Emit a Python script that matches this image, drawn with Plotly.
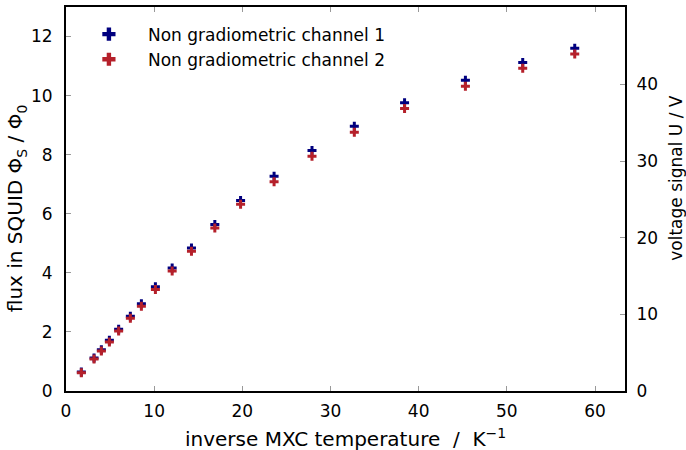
import plotly.graph_objects as go

# inverse MXC temperature (1/K)
inv_T = [1.74, 3.18, 4.01, 4.92, 5.97, 7.30, 8.55, 10.14, 12.04, 14.23, 16.88,
         19.80, 23.6, 27.9, 32.7, 38.4, 45.3, 51.8, 57.7]
# channel 1 flux (Phi_0)
flux_ch1 = [0.64, 1.12, 1.40, 1.72, 2.09, 2.53, 2.95, 3.53, 4.16, 4.84, 5.64,
            6.45, 7.27, 8.14, 8.96, 9.76, 10.52, 11.12, 11.60]
# channel 2 flux (Phi_0)
flux_ch2 = [0.62, 1.08, 1.35, 1.66, 2.03, 2.46, 2.87, 3.44, 4.06, 4.73, 5.52,
            6.32, 7.08, 7.95, 8.76, 9.56, 10.32, 10.93, 11.41]

names = ["Non gradiometric channel 1", "Non gradiometric channel 2"]
colors = ["#00007f", "#b5202a"]

x_ticks = [0, 10, 20, 30, 40, 50, 60]
y_ticks = [0, 2, 4, 6, 8, 10, 12]
y2_ticks = [0, 10, 20, 30, 40]

x_title = "inverse MXC temperature  /  K<sup>−1</sup>"
y_title = "flux in SQUID Φ<sub>S</sub> / Φ<sub>0</sub>"
y2_title = "voltage signal U / V"

FONT = "DejaVu Sans"
fig = go.Figure()

for ys, c, n in [(flux_ch1, colors[0], names[0]), (flux_ch2, colors[1], names[1])]:
    fig.add_trace(go.Scatter(x=inv_T, y=ys, mode="markers", name=n, showlegend=False,
                             marker=dict(symbol="cross", size=7.5, color=c, line=dict(width=0))))
# legend entries with larger markers
for c, n in zip(colors, names):
    fig.add_trace(go.Scatter(x=[None], y=[None], mode="markers", name=n,
                             marker=dict(symbol="cross", size=11, color=c, line=dict(width=0))))
# dummy trace to activate the right axis
fig.add_trace(go.Scatter(x=[None], y=[None], yaxis="y2", showlegend=False, hoverinfo="skip"))

axis_common = dict(showgrid=False, zeroline=False, showline=True, linecolor="black", linewidth=2,
                   ticks="inside", ticklen=5, tickcolor="#999999", tickwidth=1, automargin=False,
                   tickfont=dict(family=FONT, size=17, color="black"))

fig.update_layout(
    width=686, height=450,
    margin=dict(l=66, r=61, t=7, b=59, autoexpand=False),
    plot_bgcolor="white", paper_bgcolor="white",
    font=dict(family=FONT, size=17, color="black"),
    xaxis=dict(range=[0, 63.4], tickvals=x_ticks, mirror="ticks",
               ticklabelstandoff=4, **axis_common),
    yaxis=dict(range=[0, 13], tickvals=y_ticks,
               ticklabelstandoff=8, **axis_common),
    yaxis2=dict(range=[0, 50.1], tickvals=y2_ticks, overlaying="y", side="right",
                ticklabelstandoff=6, **axis_common),
    legend=dict(x=0.007, y=0.975, xanchor="left", yanchor="top", bgcolor="rgba(0,0,0,0)",
                font=dict(family=FONT, size=17), itemwidth=68),
    annotations=[
        dict(text=x_title, xref="paper", yref="paper", x=0.5, y=-0.123,
             xanchor="center", yanchor="middle", showarrow=False,
             font=dict(family=FONT, size=20)),
        dict(text=y_title, xref="paper", yref="paper", x=-0.088, y=0.4755, textangle=-90,
             xanchor="center", yanchor="middle", showarrow=False,
             font=dict(family=FONT, size=20)),
        dict(text=y2_title, xref="paper", yref="paper", x=1.091, y=0.555, textangle=-90,
             xanchor="center", yanchor="middle", showarrow=False,
             font=dict(family=FONT, size=17)),
    ],
)

fig.write_html("out.html", post_script="document.body.style.margin='0';",
               config={"displayModeBar": False})
